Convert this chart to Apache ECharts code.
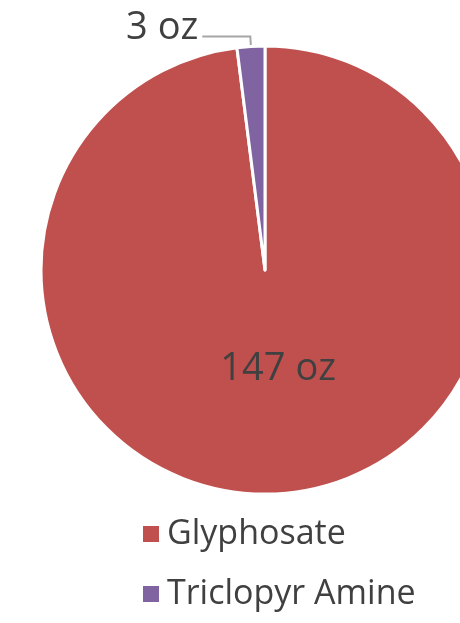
<!DOCTYPE html>
<html>
<head>
<meta charset="utf-8">
<script src="https://cdn.jsdelivr.net/npm/echarts@6/dist/echarts.min.js"></script>
<style>
  html, body { margin: 0; padding: 0; background: #fff; }
  #chart { width: 460px; height: 623px; }
</style>
</head>
<body>
<div id="chart"></div>
<script>
const categories = ['Glyphosate', 'Triclopyr Amine']
const amounts = [147, 3]
const colors = ['#C0504D', '#8064A2']

const chart = echarts.init(document.getElementById('chart'))

const pieData = categories.map((name, i) => ({
  name: name,
  value: amounts[i],
  itemStyle: { color: colors[i] },
  label: i === 0
    ? { position: 'inside', offset: [6, -16] }
    : { position: 'outside', distanceToLabelLine: 4 },
  labelLine: { show: i !== 0 },
}))

chart.setOption({
  animation: false,
  textStyle: { fontFamily: 'Open Sans' },
  legend: {
    orient: 'vertical',
    left: 136,
    top: 512,
    icon: 'rect',
    itemWidth: 18,
    itemHeight: 18,
    itemGap: 26,
    textStyle: {
      fontSize: 34,
      color: '#404040',
      fontFamily: 'Open Sans',
      padding: [0, 0, 0, 2],
    },
    data: categories,
  },
  series: [
    {
      type: 'pie',
      center: [265, 270],
      radius: [0, 224],
      startAngle: 90,
      clockwise: true,
      itemStyle: { borderColor: '#fff', borderWidth: 3 },
      label: {
        formatter: '{c} oz',
        fontSize: 38,
        color: '#404040',
        fontFamily: 'Open Sans',
      },
      labelLine: {
        length: 10,
        length2: 48,
        lineStyle: { color: '#a6a6a6', width: 2 },
      },
      labelLayout: (params) => (params.dataIndex === 1 ? { dy: -8 } : {}),
      emphasis: { disabled: true },
      data: pieData,
    },
  ],
})
</script>
</body>
</html>
